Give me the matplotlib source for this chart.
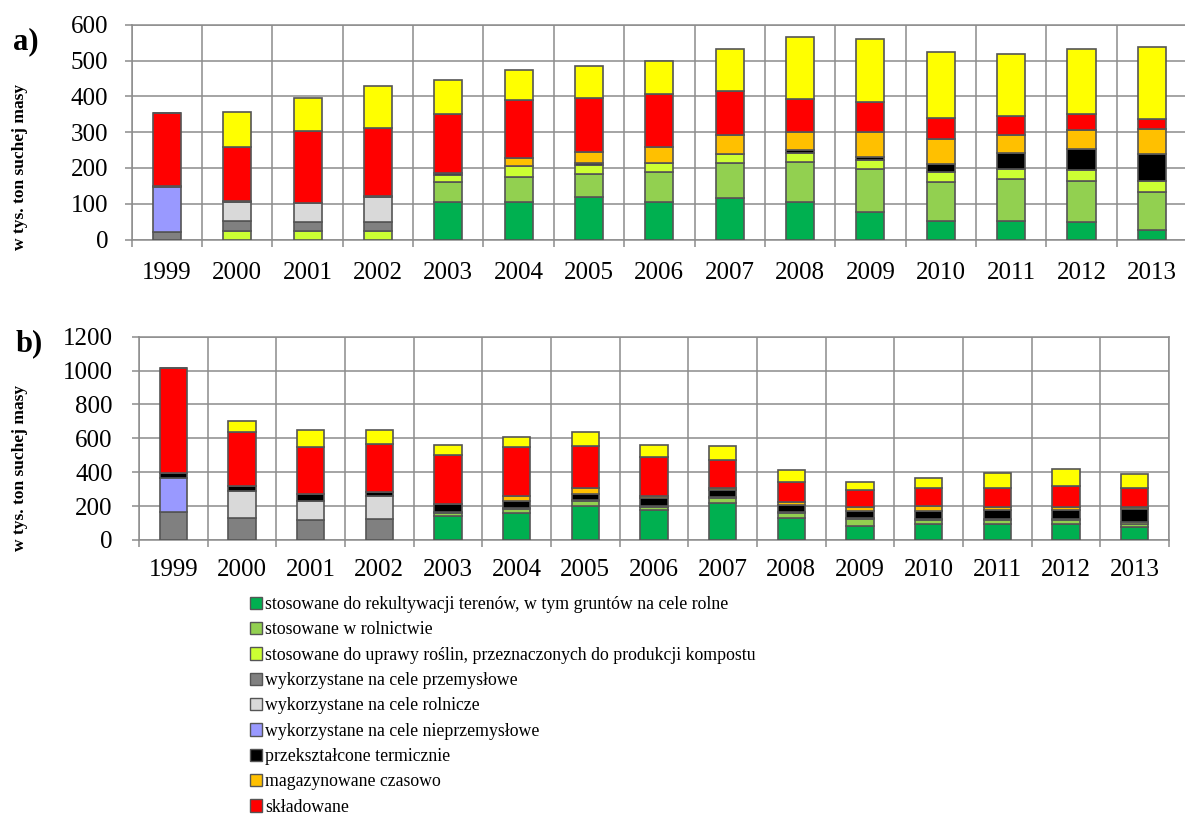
import matplotlib
matplotlib.use("Agg")
import matplotlib.pyplot as plt
from matplotlib.patches import Patch
import numpy as np

years = ["1999", "2000", "2001", "2002", "2003", "2004", "2005", "2006",
         "2007", "2008", "2009", "2010", "2011", "2012", "2013"]

labels = [
    "stosowane do rekultywacji terenów, w tym gruntów na cele rolne",
    "stosowane w rolnictwie",
    "stosowane do uprawy roślin, przeznaczonych do produkcji kompostu",
    "wykorzystane na cele przemysłowe",
    "wykorzystane na cele rolnicze",
    "wykorzystane na cele nieprzemysłowe",
    "przekształcone termicznie",
    "magazynowane czasowo",
    "składowane",
]
colors = ["#00B050", "#92D050", "#CCFF33", "#808080", "#D9D9D9",
          "#9999FF", "#000000", "#FFC000", "#FF0000", "#FFFF00"]

# panel a) – w tys. ton suchej masy
a_rekultywacja = [0, 0, 0, 0, 104, 106, 118, 106, 116, 104, 77, 51, 51, 49, 27]
a_rolnictwo    = [0, 0, 0, 0, 56, 68, 65, 82, 98, 113, 121, 109, 117, 114, 106]
a_kompost      = [0, 23, 25, 23, 21, 31, 26, 26, 24, 26, 23, 28, 30, 32, 32]
a_przemysl     = [20, 28, 25, 27, 0, 0, 0, 0, 0, 0, 0, 0, 0, 0, 0]
a_rolnicze     = [0, 55, 52, 68, 0, 0, 0, 0, 0, 0, 0, 0, 0, 0, 0]
a_nieprzem     = [127, 0, 0, 0, 0, 0, 0, 0, 0, 0, 0, 0, 0, 0, 0]
a_termiczne    = [3, 3, 0, 5, 5, 0, 5, 0, 0, 6, 9, 23, 44, 57, 73]
a_magazyn      = [0, 0, 0, 0, 0, 22, 30, 44, 53, 51, 72, 69, 51, 53, 70]
a_skladowane   = [205, 151, 201, 188, 166, 164, 151, 148, 124, 93, 84, 59, 53, 47, 30]
a_inne         = [0, 98, 92, 118, 94, 84, 89, 93, 117, 173, 176, 185, 173, 181, 201]

# panel b)
b_rekultywacja = [0, 0, 0, 0, 142, 161, 203, 177, 216, 128, 85, 92, 94, 94, 79]
b_rolnictwo    = [0, 0, 0, 0, 16, 22, 26, 18, 30, 30, 38, 26, 24, 24, 18]
b_kompost      = [0, 0, 0, 0, 8, 6, 7, 6, 6, 5, 5, 6, 6, 6, 7]
b_przemysl     = [163, 128, 118, 124, 0, 0, 0, 0, 0, 0, 0, 0, 0, 0, 0]
b_rolnicze     = [0, 163, 114, 136, 0, 0, 0, 0, 0, 0, 0, 0, 0, 0, 0]
b_nieprzem     = [205, 0, 0, 0, 0, 0, 0, 0, 0, 0, 0, 0, 0, 0, 0]
b_termiczne    = [25, 28, 39, 25, 44, 40, 34, 45, 43, 44, 43, 47, 53, 53, 79]
b_magazyn      = [0, 0, 0, 0, 0, 33, 35, 12, 10, 19, 22, 30, 20, 20, 14]
b_skladowane   = [620, 320, 276, 280, 292, 285, 248, 232, 167, 114, 102, 104, 108, 124, 108]
b_inne         = [0, 65, 102, 84, 59, 63, 86, 72, 85, 73, 49, 63, 93, 98, 85]

series_a = [a_rekultywacja, a_rolnictwo, a_kompost, a_przemysl, a_rolnicze,
            a_nieprzem, a_termiczne, a_magazyn, a_skladowane, a_inne]
series_b = [b_rekultywacja, b_rolnictwo, b_kompost, b_przemysl, b_rolnicze,
            b_nieprzem, b_termiczne, b_magazyn, b_skladowane, b_inne]

serif = ["Liberation Serif", "DejaVu Serif"]
plt.rcParams["font.family"] = serif

W, H = 1185, 816
fig = plt.figure(figsize=(W / 100, H / 100), dpi=100)

grid_c = "#8c8c8c"
edge_c = "#555555"


def draw_panel(rect, series, ymax, ystep, xpad, ypad):
    ax = fig.add_axes(rect)
    x = np.arange(len(years))
    bottom = np.zeros(len(years))
    for vals, col in zip(series, colors):
        v = np.array(vals, dtype=float)
        ax.bar(x, v, width=0.4, bottom=bottom, color=col,
               edgecolor=edge_c, linewidth=1.2, zorder=3)
        bottom += v
    ax.set_xlim(-0.5, len(years) - 0.5)
    ax.set_ylim(0, ymax)
    ax.set_yticks(np.arange(0, ymax + 1, ystep))
    ax.set_xticks(np.arange(len(years) + 1) - 0.5)
    ax.set_xticklabels([])
    ax.set_xticks(x, minor=True)
    ax.set_xticklabels(years, minor=True, fontsize=18)
    ax.tick_params(axis="x", which="minor", length=0, pad=xpad)
    ax.tick_params(axis="x", which="major", length=5, width=1.1, color=grid_c)
    ax.tick_params(axis="y", length=5, width=1.1, color=grid_c,
                   labelsize=18, pad=ypad)
    ax.grid(True, which="major", color=grid_c, linewidth=1.1, zorder=0)
    ax.set_axisbelow(True)
    for s in ax.spines.values():
        s.set_color(grid_c)
        s.set_linewidth(1.1)
    return ax


ax_a = draw_panel([131.7 / W, 1 - 239.5 / H, (1187 - 131.7) / W, (239.5 - 25) / H],
                  series_a, 600, 100, 16.5, 12)
ax_b = draw_panel([139 / W, 1 - 540 / H, (1169 - 139) / W, (540 - 336.7) / H],
                  series_b, 1200, 200, 14, 14)

ylab = "w tys. ton suchej masy"
fig.text(20 / W, 1 - 167 / H, ylab, rotation=90, ha="center", va="center",
         fontsize=12.5, fontweight="bold")
fig.text(20 / W, 1 - 468 / H, ylab, rotation=90, ha="center", va="center",
         fontsize=12.5, fontweight="bold")
fig.text(26 / W, 1 - 42 / H, "a)", ha="center", va="center",
         fontsize=22, fontweight="bold")
fig.text(29 / W, 1 - 344 / H, "b)", ha="center", va="center",
         fontsize=22, fontweight="bold")

handles = [Patch(facecolor=c, edgecolor=edge_c, linewidth=1.0) for c in colors[:9]]
fig.legend(handles, labels, loc="upper left",
           bbox_to_anchor=(250 / W, 1 - 596 / H), frameon=False,
           borderaxespad=0, borderpad=0, handlelength=0.7, handleheight=0.7,
           handletextpad=0.15, labelspacing=0.47, fontsize=12.8)

fig.savefig("out.png", dpi=100)
